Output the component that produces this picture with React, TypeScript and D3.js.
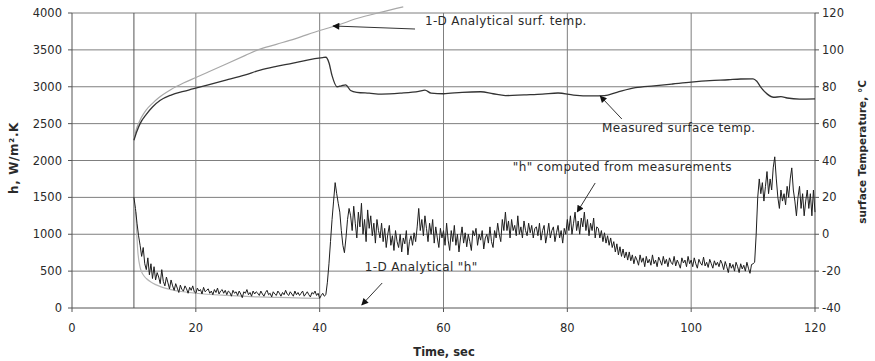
import React from "react";
import * as d3 from "d3";

// ---- Data ----
const xTicks = [0, 20, 40, 60, 80, 100, 120];
const xGrid = [10, 20, 40, 60, 80, 100];
const hTicks = [0, 500, 1000, 1500, 2000, 2500, 3000, 3500, 4000];
const tempTicks = [-40, -20, 0, 20, 40, 60, 80, 100, 120];

// "h" computed from measurements, sampled every 0.25 s from t = 10 s (20 values per 5 s row)
const hStart = 10;
const hStep = 0.25;
const hComputed = [
  /* 10 */ 1500, 1350, 1150, 980, 850, 700, 820, 600, 520, 680, 450, 600, 400, 560, 380, 480, 420, 330, 520, 360,
  /* 15 */ 300, 420, 340, 260, 380, 300, 240, 330, 270, 210, 310, 250, 230, 300, 260, 200, 280, 240, 300, 220,
  /* 20 */ 200, 270, 230, 250, 190, 280, 220, 240, 260, 200, 230, 180, 250, 210, 270, 190, 230, 250, 200, 240,
  /* 25 */ 180, 230, 210, 160, 240, 200, 220, 170, 230, 190, 140, 220, 200, 250, 180, 210, 160, 230, 190, 220,
  /* 30 */ 200, 170, 230, 190, 160, 210, 240, 180, 200, 150, 220, 190, 170, 230, 200, 160, 210, 180, 240, 190,
  /* 35 */ 170, 220, 190, 160, 230, 180, 210, 170, 200, 230, 160, 190, 220, 180, 150, 210, 190, 230, 170, 200,
  /* 40 */ 130, 170, 200, 160, 180, 350, 600, 900, 1200, 1450, 1700, 1550, 1420, 1300, 1050, 850, 750, 950, 1200, 1350,
  /* 45 */ 1250, 1050, 1380, 1150, 950, 1300, 1100, 1420, 1000, 1200, 900, 1330, 1080, 1250, 980, 1150, 880, 1200, 1050, 950,
  /* 50 */ 1150, 900, 1080, 820, 1000, 1120, 850, 980, 780, 1050, 900, 820, 1000, 760, 950, 870, 1050, 720, 900, 980,
  /* 55 */ 850, 1020, 900, 1100, 1350, 1050, 1200, 980, 1250, 1080, 900, 1150, 1000, 1200, 880, 1100, 950, 820, 1080, 950,
  /* 60 */ 1050, 850, 1150, 920, 780, 1050, 900, 1120, 850, 1000, 760, 950, 1100, 880, 1020, 830, 1000, 900, 780, 1050,
  /* 65 */ 980, 1080, 850, 1000, 920, 1050, 800, 950, 1000, 880, 1100, 900, 820, 1050, 950, 1150, 1000, 900, 1200, 1050,
  /* 70 */ 1300, 1050, 1180, 950, 1200, 1050, 1120, 980, 1250, 1000, 1100, 950, 1180, 1050, 980, 1150, 1020, 1120, 950, 1080,
  /* 75 */ 1100, 980, 1150, 920, 1050, 1120, 880, 1000, 1150, 950, 1050, 1100, 900, 1020, 1120, 950, 1050, 880, 1080, 1000,
  /* 80 */ 1200, 1050, 1250, 1000, 1150, 1300, 1050, 1180, 1000, 1220, 1100, 1300, 1050, 1200, 980, 1150, 1050, 1220, 950, 1100,
  /* 85 */ 1080, 950, 1050, 900, 1020, 880, 980, 850, 950, 820, 900, 760, 870, 720, 830, 700, 800, 680, 760, 650,
  /* 90 */ 760, 640, 720, 600, 700, 650, 580, 720, 620, 680, 560, 700, 610, 660, 580, 720, 600, 650, 560, 690,
  /* 95 */ 640, 580, 700, 600, 660, 560, 680, 620, 590, 700, 570, 650, 600, 540, 680, 610, 650, 560, 700, 600,
  /* 100 */ 650, 560, 680, 600, 540, 660, 610, 580, 690, 570, 620, 550, 660, 600, 540, 640, 580, 620, 560, 650,
  /* 105 */ 600, 520, 630, 560, 480, 610, 540, 590, 500, 620, 560, 480, 600, 530, 580, 500, 620, 540, 470, 590,
  /* 110 */ 600, 620, 1000, 1500, 1750, 1550, 1700, 1450, 1650, 1850, 1550, 1750, 1600, 1900, 2050, 1750, 1500, 1350, 1600, 1450,
  /* 115 */ 1550, 1400, 1650, 1500, 1750, 1900, 1600, 1450, 1250, 1500, 1650, 1350, 1550, 1250, 1450, 1600, 1350, 1550, 1250, 1600,
  /* 120 */ 1300,
];

// Measured surface temperature (right axis, °C)
const measuredTime = [
  10, 10.5, 11, 12, 13, 14.2, 16, 18, 19.5, 22, 25, 28, 30.4, 33, 35.7, 38, 40.5, 41,
  41.5, 42, 42.8, 43.5, 44.2, 45, 46, 48, 50, 53, 56, 57, 58, 60, 63, 66, 68, 70, 73,
  76, 78.5, 81, 84, 86, 88, 91, 94, 97, 100, 103, 106, 108, 110, 110.6, 111.3, 112.3,
  113.3, 114.5, 115.5, 117.5, 120,
];
const measuredTemp = [
  51, 56, 60, 65, 69, 72.5, 75.5, 77.5, 78.8, 81, 83.7, 86.5, 89, 91, 92.8, 94.5, 95.8, 96,
  93, 86, 80, 80.5, 81, 78, 77, 76.5, 76, 76.5, 77.5, 78.2, 76.5, 76.2, 77, 77.3, 76.2, 75.2, 75.6,
  76, 76.6, 75.5, 75, 75.2, 77, 79.5, 80.5, 81.5, 82.5, 83.3, 83.8, 84.2, 84.3, 83, 79.5, 76,
  74.3, 74.6, 73.9, 73.3, 73.4,
];

// 1-D analytical surface temperature (right axis, °C)
const analyticalTime = [10, 10.5, 11, 11.5, 12, 13, 14, 16, 18, 20, 22, 25, 28, 30, 33, 36, 40, 43, 46, 50, 53.5];
const analyticalTemp = [52, 58, 62, 65, 67.5, 71, 74, 78.5, 82, 85, 88, 92.5, 97, 100, 103, 106, 110.5, 113.5, 117, 120.5, 123.3];

// 1-D analytical "h" (left axis)
const analyticalHTime = [10.3, 10.6, 11, 11.5, 12, 13, 14, 15, 16, 18, 20, 25, 30, 35, 40];
const analyticalH = [1300, 800, 550, 450, 400, 340, 300, 270, 250, 220, 200, 170, 150, 140, 130];

const FONT = "'DejaVu Sans', sans-serif";

export default function App() {
  const W = 875;
  const H = 361;
  const x = d3.scaleLinear().domain([0, 120]).range([72, 815]);
  const yH = d3.scaleLinear().domain([0, 4000]).range([308, 13]);
  const yT = d3.scaleLinear().domain([-40, 120]).range([308, 13]);

  const hPts: [number, number][] = hComputed.map((v, i) => [hStart + i * hStep, v]);
  const lineH = d3.line<[number, number]>().x((d) => x(d[0])).y((d) => yH(d[1]));
  const lineT = d3.line<[number, number]>().x((d) => x(d[0])).y((d) => yT(d[1])).curve(d3.curveMonotoneX);
  const measuredPts: [number, number][] = measuredTime.map((t, i) => [t, measuredTemp[i]]);
  const analyticalPts: [number, number][] = analyticalTime.map((t, i) => [t, analyticalTemp[i]]);
  const analyticalHPts: [number, number][] = analyticalHTime.map((t, i) => [t, analyticalH[i]]);
  const lineHs = d3.line<[number, number]>().x((d) => x(d[0])).y((d) => yH(d[1])).curve(d3.curveMonotoneX);

  const gridColor = "#7f7f7f";
  const axisColor = "#555";
  const textColor = "#2a2a2a";
  const annSize = 12;
  const annSpacing = 0.35;

  const arrow = (x1: number, y1: number, x2: number, y2: number) => (
    <line x1={x(x1)} y1={yH(y1)} x2={x(x2)} y2={yH(y2)} stroke="#333" strokeWidth={1} markerEnd="url(#ah)" />
  );

  return (
    <svg width={W} height={H} style={{ position: "absolute", left: 0, top: 0, background: "#fff" }} fontFamily={FONT}>
      <defs>
        <marker id="ah" viewBox="0 0 10 10" refX="9" refY="5" markerWidth="9" markerHeight="7" orient="auto" markerUnits="userSpaceOnUse">
          <path d="M0,0 L10,5 L0,10 z" fill="#111" />
        </marker>
      </defs>
      <rect x={0} y={0} width={W} height={H} fill="#fff" />

      {/* horizontal gridlines */}
      {hTicks.map((v) => (
        <line key={"hg" + v} x1={x(0)} x2={x(120)} y1={yH(v)} y2={yH(v)} stroke={v === 0 ? axisColor : gridColor} strokeWidth={1} />
      ))}
      {/* vertical gridlines */}
      {xGrid.map((v) => (
        <line key={"vg" + v} x1={x(v)} x2={x(v)} y1={yH(0)} y2={yH(4000)} stroke={v === 10 ? "#555" : gridColor} strokeWidth={1} />
      ))}
      {/* axes */}
      <line x1={x(0)} x2={x(0)} y1={yH(0)} y2={yH(4000)} stroke={axisColor} />
      <line x1={x(120)} x2={x(120)} y1={yH(0)} y2={yH(4000)} stroke={axisColor} />

      {/* left ticks + labels */}
      {hTicks.map((v) => (
        <g key={"lt" + v}>
          <line x1={x(0) - 4} x2={x(0)} y1={yH(v)} y2={yH(v)} stroke={axisColor} />
          <text x={62} y={yH(v)} dy="0.35em" textAnchor="end" fontSize={11.5} fill={textColor}>
            {v}
          </text>
        </g>
      ))}
      {/* right ticks + labels */}
      {tempTicks.map((v) => (
        <g key={"rt" + v}>
          <line x1={x(120)} x2={x(120) + 4} y1={yT(v)} y2={yT(v)} stroke={axisColor} />
          <text x={822} y={yT(v)} dy="0.35em" textAnchor="start" fontSize={11.5} fill={textColor}>
            {v}
          </text>
        </g>
      ))}
      {/* bottom ticks + labels */}
      {xTicks.map((v) => (
        <g key={"bt" + v}>
          <line x1={x(v)} x2={x(v)} y1={yH(0)} y2={yH(0) + 4} stroke={axisColor} />
          <text x={x(v)} y={328} dy="0.35em" textAnchor="middle" fontSize={11.5} fill={textColor}>
            {v}
          </text>
        </g>
      ))}

      {/* axis titles */}
      <text x={444} y={352} dy="0.35em" textAnchor="middle" fontSize={11.5} fontWeight="bold" fill={textColor}>
        Time, sec
      </text>
      <text transform={`translate(14,158) rotate(-90)`} textAnchor="middle" dy="0.35em" fontSize={12} letterSpacing={0.6} fontWeight="bold" fill={textColor}>
        h, W/m².K
      </text>
      <text transform={`translate(862,152) rotate(-90)`} textAnchor="middle" dy="0.35em" fontSize={10.5} fontWeight="bold" fill={textColor}>
        surface Temperature, °C
      </text>

      {/* series */}
      <path d={lineHs(analyticalHPts) ?? ""} fill="none" stroke="#b5b5b5" strokeWidth={1.2} />
      <path d={lineT(analyticalPts) ?? ""} fill="none" stroke="#a8a8a8" strokeWidth={1.2} />
      <path d={lineT(measuredPts) ?? ""} fill="none" stroke="#333" strokeWidth={1.3} />
      <path d={lineH(hPts) ?? ""} fill="none" stroke="#1e1e1e" strokeWidth={1} />

      {/* annotations */}
      <text x={x(57)} y={yH(3892)} dy="0.35em" fontSize={annSize} letterSpacing={annSpacing} fill={textColor}>
        1-D Analytical surf. temp.
      </text>
      {arrow(55.4, 3783, 42.15, 3824)}
      <text x={x(85.6)} y={yH(2441)} dy="0.35em" fontSize={annSize} letterSpacing={annSpacing} fill={textColor}>
        Measured surface temp.
      </text>
      {arrow(88.8, 2563, 85.3, 2875)}
      <text x={x(71.2)} y={yH(1912)} dy="0.35em" fontSize={annSize} letterSpacing={annSpacing} fill={textColor}>
        "h" computed from measurements
      </text>
      {arrow(84.5, 1695, 81.6, 1302)}
      <text x={x(47.3)} y={yH(556)} dy="0.35em" fontSize={annSize} letterSpacing={annSpacing} fill={textColor}>
        1-D Analytical "h"
      </text>
      {arrow(50.1, 339, 46.8, 41)}
    </svg>
  );
}
